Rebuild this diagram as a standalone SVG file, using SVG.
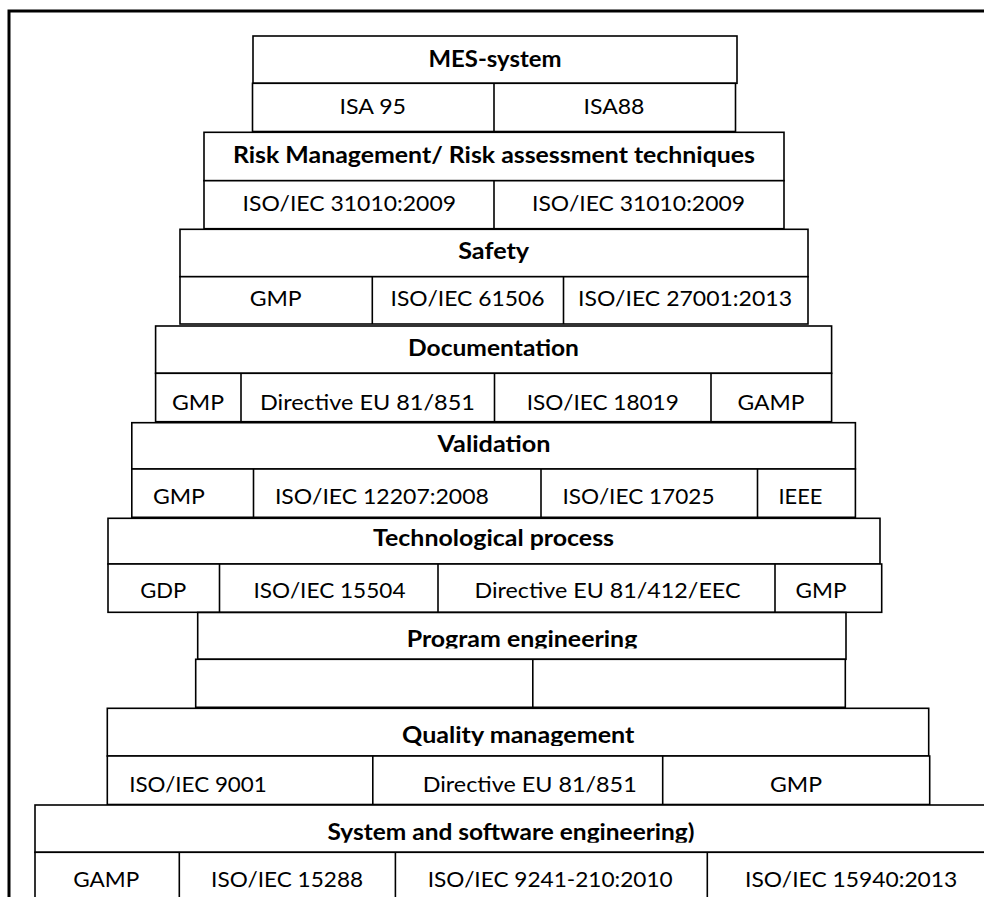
<svg xmlns="http://www.w3.org/2000/svg" width="984" height="897" viewBox="0 0 984 897">
<style>
.b{fill:#fff;stroke:#000;stroke-width:1.6}
.d{stroke:#000;stroke-width:1.6;fill:none}
.h{font-family:Lato,"Liberation Sans",sans-serif;font-size:22px;font-weight:bold;fill:#000;text-anchor:middle}
.t{font-family:Lato,"Liberation Sans",sans-serif;font-size:22px;fill:#000;text-anchor:middle}
.f{stroke:#000;stroke-width:3;fill:none}
</style>
<defs>
<clipPath id="cp1"><rect x="198" y="612" width="648" height="36.5"/></clipPath>
<clipPath id="cp2"><rect x="108" y="708" width="820" height="38"/></clipPath>
<clipPath id="cp3"><rect x="35" y="805" width="960" height="37.7"/></clipPath>
</defs>
<rect width="984" height="897" fill="#fff"/>
<path class="f" d="M9 897 V11 H984"/>

<g id="mes-system">
<rect class="b" x="253" y="36" width="484" height="47.3"/>
<text class="h" x="495" y="66.5" textLength="133" lengthAdjust="spacingAndGlyphs">MES-system</text>
</g>
<g id="mes-standards">
<rect class="b" x="252.5" y="83.3" width="483" height="48.2"/>
<line class="d" x1="494" y1="83.3" x2="494" y2="131.5"/>
<text class="t" x="372.8" y="113.8" textLength="66.5" lengthAdjust="spacingAndGlyphs">ISA 95</text>
<text class="t" x="614" y="113.8" textLength="61" lengthAdjust="spacingAndGlyphs">ISA88</text>
</g>

<g id="risk">
<rect class="b" x="204" y="132.3" width="580" height="48.4"/>
<text class="h" x="494" y="162.7" textLength="522" lengthAdjust="spacingAndGlyphs">Risk Management/ Risk assessment techniques</text>
</g>
<g id="risk-standards">
<rect class="b" x="204" y="180.7" width="580" height="48"/>
<line class="d" x1="494" y1="180.7" x2="494" y2="228.7"/>
<text class="t" x="349.3" y="210.8" textLength="213.5" lengthAdjust="spacingAndGlyphs">ISO/IEC 31010:2009</text>
<text class="t" x="638.5" y="210.8" textLength="213" lengthAdjust="spacingAndGlyphs">ISO/IEC 31010:2009</text>
</g>

<g id="safety">
<rect class="b" x="180" y="229.3" width="628" height="47.4"/>
<text class="h" x="493.7" y="259" textLength="71" lengthAdjust="spacingAndGlyphs">Safety</text>
</g>
<g id="safety-standards">
<rect class="b" x="180" y="276.7" width="628" height="47.3"/>
<line class="d" x1="372.3" y1="276.7" x2="372.3" y2="324"/>
<line class="d" x1="563.5" y1="276.7" x2="563.5" y2="324"/>
<text class="t" x="275.7" y="305.5" textLength="52" lengthAdjust="spacingAndGlyphs">GMP</text>
<text class="t" x="467.5" y="305.5" textLength="154" lengthAdjust="spacingAndGlyphs">ISO/IEC 61506</text>
<text class="t" x="685" y="305.5" textLength="214" lengthAdjust="spacingAndGlyphs">ISO/IEC 27001:2013</text>
</g>

<g id="documentation">
<rect class="b" x="155.6" y="326" width="676" height="47.3"/>
<text class="h" x="493.5" y="355.5" textLength="171" lengthAdjust="spacingAndGlyphs">Documentation</text>
</g>
<g id="documentation-standards">
<rect class="b" x="155.6" y="373.3" width="676" height="48.4"/>
<line class="d" x1="241" y1="373.3" x2="241" y2="421.7"/>
<line class="d" x1="494.5" y1="373.3" x2="494.5" y2="421.7"/>
<line class="d" x1="711" y1="373.3" x2="711" y2="421.7"/>
<text class="t" x="198" y="409.5" textLength="52" lengthAdjust="spacingAndGlyphs">GMP</text>
<text class="t" x="367.4" y="409.5" textLength="215" lengthAdjust="spacingAndGlyphs">Directive EU 81/851</text>
<text class="t" x="602.8" y="409.5" textLength="152" lengthAdjust="spacingAndGlyphs">ISO/IEC 18019</text>
<text class="t" x="771" y="409.5" textLength="67" lengthAdjust="spacingAndGlyphs">GAMP</text>
</g>

<g id="validation">
<rect class="b" x="131.8" y="422.7" width="723.6" height="46.3"/>
<text class="h" x="494" y="452" textLength="113" lengthAdjust="spacingAndGlyphs">Validation</text>
</g>
<g id="validation-standards">
<rect class="b" x="131.8" y="469" width="723.6" height="48.3"/>
<line class="d" x1="253.5" y1="469" x2="253.5" y2="517.3"/>
<line class="d" x1="541" y1="469" x2="541" y2="517.3"/>
<line class="d" x1="757.5" y1="469" x2="757.5" y2="517.3"/>
<text class="t" x="178.9" y="504" textLength="52" lengthAdjust="spacingAndGlyphs">GMP</text>
<text class="t" x="381.9" y="504" textLength="214" lengthAdjust="spacingAndGlyphs">ISO/IEC 12207:2008</text>
<text class="t" x="638.5" y="504" textLength="152" lengthAdjust="spacingAndGlyphs">ISO/IEC 17025</text>
<text class="t" x="800.5" y="504" textLength="44" lengthAdjust="spacingAndGlyphs">IEEE</text>
</g>

<g id="technological-process">
<rect class="b" x="108" y="518.3" width="772" height="45.7"/>
<text class="h" x="493.6" y="546.3" textLength="241" lengthAdjust="spacingAndGlyphs">Technological process</text>
</g>
<g id="technological-standards">
<rect class="b" x="108" y="564" width="773.7" height="48.3"/>
<line class="d" x1="219.5" y1="564" x2="219.5" y2="612.3"/>
<line class="d" x1="438" y1="564" x2="438" y2="612.3"/>
<line class="d" x1="775" y1="564" x2="775" y2="612.3"/>
<text class="t" x="163.3" y="598" textLength="46" lengthAdjust="spacingAndGlyphs">GDP</text>
<text class="t" x="329.5" y="598" textLength="152" lengthAdjust="spacingAndGlyphs">ISO/IEC 15504</text>
<text class="t" x="607.5" y="598" textLength="266" lengthAdjust="spacingAndGlyphs">Directive EU 81/412/EEC</text>
<text class="t" x="821" y="598" textLength="51" lengthAdjust="spacingAndGlyphs">GMP</text>
</g>

<g id="program-engineering">
<rect class="b" x="197.7" y="612.5" width="648.3" height="46.8"/>
<text class="h" x="522" y="646.7" textLength="230.6" lengthAdjust="spacingAndGlyphs" clip-path="url(#cp1)">Program engineering</text>
</g>
<g id="program-standards">
<rect class="b" x="195.7" y="659.3" width="649.6" height="48"/>
<line class="d" x1="532.8" y1="659.3" x2="532.8" y2="707.3"/>
</g>

<g id="quality-management">
<rect class="b" x="107.3" y="708.3" width="821.4" height="47.7"/>
<text class="h" x="518.2" y="743.3" textLength="232.3" lengthAdjust="spacingAndGlyphs" clip-path="url(#cp2)">Quality management</text>
</g>
<g id="quality-standards">
<rect class="b" x="107.3" y="756" width="822.4" height="48.5"/>
<line class="d" x1="372.8" y1="756" x2="372.8" y2="804.5"/>
<line class="d" x1="662.7" y1="756" x2="662.7" y2="804.5"/>
<text class="t" x="198" y="792.3" textLength="137.7" lengthAdjust="spacingAndGlyphs">ISO/IEC 9001</text>
<text class="t" x="529.7" y="792.3" textLength="214" lengthAdjust="spacingAndGlyphs">Directive EU 81/851</text>
<text class="t" x="796" y="792.3" textLength="52" lengthAdjust="spacingAndGlyphs">GMP</text>
</g>

<g id="system-software-engineering">
<rect class="b" x="35" y="805" width="970" height="47.3"/>
<text class="h" x="511" y="840" textLength="367" lengthAdjust="spacingAndGlyphs" clip-path="url(#cp3)">System and software engineering)</text>
</g>
<g id="system-standards">
<rect class="b" x="35" y="852.3" width="970" height="60"/>
<line class="d" x1="179.3" y1="852.3" x2="179.3" y2="897"/>
<line class="d" x1="395.4" y1="852.3" x2="395.4" y2="897"/>
<line class="d" x1="707.3" y1="852.3" x2="707.3" y2="897"/>
<text class="t" x="106.3" y="887" textLength="66" lengthAdjust="spacingAndGlyphs">GAMP</text>
<text class="t" x="287.1" y="887" textLength="152" lengthAdjust="spacingAndGlyphs">ISO/IEC 15288</text>
<text class="t" x="550.2" y="887" textLength="245" lengthAdjust="spacingAndGlyphs">ISO/IEC 9241-210:2010</text>
<text class="t" x="851.2" y="887" textLength="212.3" lengthAdjust="spacingAndGlyphs">ISO/IEC 15940:2013</text>
</g>

<g id="connectors"/>
</svg>
